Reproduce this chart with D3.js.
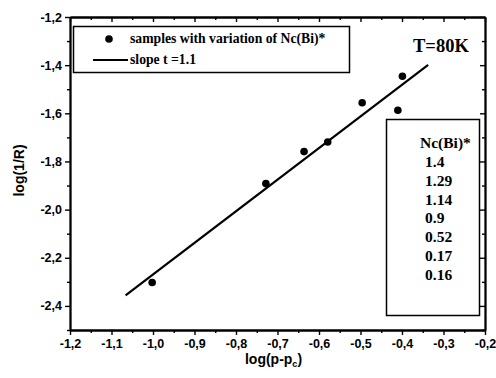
<!DOCTYPE html>
<html>
<head>
<meta charset="utf-8">
<script src="https://cdn.jsdelivr.net/npm/d3@7"></script>
<style>
  body { margin: 0; background: #fff; }
  .tick text { font-family: "Liberation Sans", Arial, sans-serif; font-weight: bold; font-size: 12.5px; }
</style>
</head>
<body>
<div id="chart"></div>
<script>
// measured samples
const xData = [-1.002, -0.728, -0.636, -0.579, -0.496, -0.410, -0.399];
const yData = [-2.303, -1.892, -1.759, -1.719, -1.556, -1.587, -1.446];
// fitted line end points
const fitX = [-1.066, -0.337];
const fitY = [-2.356, -1.399];
const ncLabels = ["1.4", "1.29", "1.14", "0.9", "0.52", "0.17", "0.16"];
const xTicks = [-1.2, -1.1, -1.0, -0.9, -0.8, -0.7, -0.6, -0.5, -0.4, -0.3, -0.2];
const yTicks = [-1.2, -1.4, -1.6, -1.8, -2.0, -2.2, -2.4];

const W = 496, H = 378;
const margin = {top: 17, left: 70, right: 11, bottom: 48};
const width = W - margin.left - margin.right,
      height = H - margin.top - margin.bottom;

const svg = d3.select("#chart").append("svg")
  .attr("width", W).attr("height", H);
const g = svg.append("g")
  .attr("transform", "translate(" + margin.left + "," + margin.top + ")");

const xScale = d3.scaleLinear().domain([-1.2, -0.2]).range([0, width]);
const yScale = d3.scaleLinear().domain([-2.5, -1.2]).range([height, 0]);

const fmt = d => d3.format(".1f")(d).replace(".", ",").replace("−", "-");

// minor ticks
const xMinor = d3.range(-1.15, -0.2, 0.1);
const yMinor = d3.range(-2.5, -1.2, 0.2);

function axisStyle(sel) {
  sel.selectAll("path").attr("stroke", "#000").attr("stroke-width", 1.8);
  sel.selectAll("line").attr("stroke", "#000").attr("stroke-width", 1.4);
}

// bottom
g.append("g").attr("transform", "translate(0," + height + ")")
  .call(d3.axisBottom(xScale).tickValues(xTicks).tickFormat(fmt).tickSize(5).tickSizeOuter(0).tickPadding(4))
  .call(axisStyle);
g.append("g").attr("transform", "translate(0," + height + ")")
  .call(d3.axisBottom(xScale).tickValues(xMinor).tickFormat("").tickSize(3).tickSizeOuter(0))
  .call(axisStyle);
// left
g.append("g")
  .call(d3.axisLeft(yScale).tickValues(yTicks).tickFormat(fmt).tickSize(5).tickSizeOuter(0).tickPadding(3))
  .call(axisStyle);
g.append("g")
  .call(d3.axisLeft(yScale).tickValues(yMinor).tickFormat("").tickSize(3).tickSizeOuter(0))
  .call(axisStyle);
// top (ticks inside)
g.append("g")
  .call(d3.axisTop(xScale).tickValues(xTicks).tickFormat("").tickSize(-5).tickSizeOuter(0))
  .call(axisStyle);
g.append("g")
  .call(d3.axisTop(xScale).tickValues(xMinor).tickFormat("").tickSize(-3).tickSizeOuter(0))
  .call(axisStyle);
// right (ticks inside)
g.append("g").attr("transform", "translate(" + width + ",0)")
  .call(d3.axisRight(yScale).tickValues(yTicks).tickFormat("").tickSize(-5).tickSizeOuter(0))
  .call(axisStyle);
g.append("g").attr("transform", "translate(" + width + ",0)")
  .call(d3.axisRight(yScale).tickValues(yMinor).tickFormat("").tickSize(-3).tickSizeOuter(0))
  .call(axisStyle);

// axis labels
svg.append("text")
  .attr("x", margin.left + width / 2 - 4).attr("y", 364)
  .attr("text-anchor", "middle")
  .style("font-family", "'Liberation Sans', Arial, sans-serif")
  .style("font-weight", "bold").style("font-size", "14px")
  .text("log(p-p")
  .append("tspan").attr("dy", 3).style("font-size", "9px").text("c")
  .append("tspan").attr("dy", -3).style("font-size", "14px").text(")");

svg.append("text")
  .attr("transform", "translate(24," + (margin.top + height / 2 - 3) + ") rotate(-90)")
  .attr("text-anchor", "middle")
  .style("font-family", "'Liberation Sans', Arial, sans-serif")
  .style("font-weight", "bold").style("font-size", "14px")
  .text("log(1/R)");

// fit line
g.append("line")
  .attr("x1", xScale(fitX[0])).attr("y1", yScale(fitY[0]))
  .attr("x2", xScale(fitX[1])).attr("y2", yScale(fitY[1]))
  .attr("stroke", "#000").attr("stroke-width", 2.2);

// data points
g.selectAll(".pt")
  .data(d3.zip(xData, yData))
  .enter().append("circle")
  .attr("class", "pt")
  .attr("cx", d => xScale(d[0]))
  .attr("cy", d => yScale(d[1]))
  .attr("r", 3.8)
  .attr("fill", "#000");

const serif = "'Liberation Serif', 'Times New Roman', serif";

// legend box
const legend = svg.append("g");
legend.append("rect")
  .attr("x", 73.5).attr("y", 26.5).attr("width", 276).attr("height", 46)
  .attr("fill", "none").attr("stroke", "#000").attr("stroke-width", 1.5);
legend.append("circle").attr("cx", 109).attr("cy", 39).attr("r", 3.8).attr("fill", "#000");
legend.append("line").attr("x1", 93).attr("x2", 128).attr("y1", 60).attr("y2", 60)
  .attr("stroke", "#000").attr("stroke-width", 2.2);
legend.append("text").attr("x", 130).attr("y", 43)
  .style("font-family", serif).style("font-weight", "bold").style("font-size", "13.7px")
  .text("samples with variation of Nc(Bi)*");
legend.append("text").attr("x", 130).attr("y", 64)
  .style("font-family", serif).style("font-weight", "bold").style("font-size", "13.7px")
  .text("slope t =1.1");

// temperature label
svg.append("text").attr("x", 413).attr("y", 52)
  .style("font-family", serif).style("font-weight", "bold").style("font-size", "18.5px")
  .text("T=80K");

// Nc(Bi)* box
const ncBox = svg.append("g");
ncBox.append("rect")
  .attr("x", 386.5).attr("y", 119.5).attr("width", 93).attr("height", 196)
  .attr("fill", "none").attr("stroke", "#000").attr("stroke-width", 1.5);
ncBox.append("text").attr("x", 420).attr("y", 148)
  .style("font-family", serif).style("font-weight", "bold").style("font-size", "15.5px")
  .text("Nc(Bi)*");
ncBox.selectAll(".nc")
  .data(ncLabels)
  .enter().append("text")
  .attr("class", "nc")
  .attr("x", 425)
  .attr("y", (d, i) => 167 + i * 18.8)
  .style("font-family", serif).style("font-weight", "bold").style("font-size", "15.5px")
  .text(d => d);
</script>
</body>
</html>
